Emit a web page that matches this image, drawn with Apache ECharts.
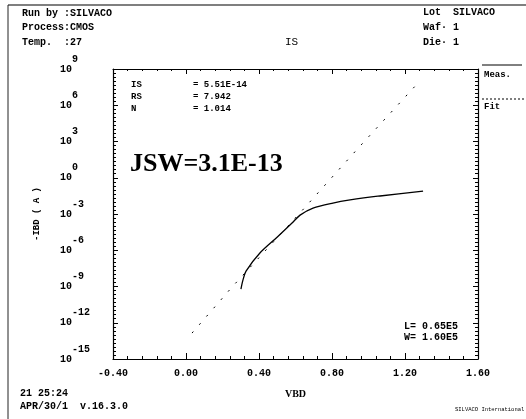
<!DOCTYPE html>
<html>
<head>
<meta charset="utf-8">
<script src="https://cdn.jsdelivr.net/npm/echarts@6/dist/echarts.min.js"></script>
<style>
html,body{margin:0;padding:0;background:#fff;}
#chart{width:526px;height:419px;}
</style>
</head>
<body>
<div id="chart"></div>
<script>
// Measured diode current (VBD in volts, -IBD in amps)
const measV = [0.301, 0.312, 0.329, 0.405, 0.499, 0.581, 0.625, 0.696, 0.805, 0.899, 1.063, 1.299];
const measI = [6.2e-10, 3.4e-9, 1.9e-8, 5.9e-7, 1.2e-5, 1.8e-4, 8.1e-4, 3.1e-3, 8.1e-3, 1.45e-2, 3.1e-2, 7.9e-2];
// Fitted ideal diode line
const fitV = [0.033, 0.252, 0.625, 0.937, 1.271];
const fitI = [1.4e-13, 8.9e-10, 1.25e-3, 2.2e2, 6.9e7];
// Axis ticks
const xTicks = { min: -0.4, max: 1.6, step: 0.4 };
const yExp = { min: -15, max: 9, step: 3 };
// Annotation texts
const headerLeft = ['Run by :SILVACO', 'Process:CMOS', 'Temp.  :27'];
const headerRight = ['Lot  SILVACO', 'Waf\u00b7 1', 'Die\u00b7 1'];
const paramNames = ['IS', 'RS', 'N'];
const paramValues = ['= 5.51E-14', '= 7.942', '= 1.014'];
const geomTexts = ['L= 0.65E5', 'W= 1.60E5'];
const footer = ['21 25:24', 'APR/30/1  v.16.3.0'];

const mono = 'Liberation Mono';
const chart = echarts.init(document.getElementById('chart'));

const toPts = (vs, is) => vs.map((v, i) => [v, Math.log10(is[i])]);

const txt = (x, y, s, extra) => Object.assign({
  type: 'text', left: x, top: y,
  style: Object.assign({ text: s, fill: '#000', font: 'bold 10px "' + mono + '"' }, extra || {})
});

const graphics = [];
headerLeft.forEach((s, i) => graphics.push(txt(22, 8 + i * 14.5, s)));
headerRight.forEach((s, i) => graphics.push(txt(423, 7 + i * 15, s)));
graphics.push(txt(285, 37, 'IS', { font: '11px "' + mono + '"' }));
paramNames.forEach((s, i) => graphics.push(txt(131, 80 + i * 12, s, { font: 'bold 9px "' + mono + '"' })));
paramValues.forEach((s, i) => graphics.push(txt(193, 80 + i * 12, s, { font: 'bold 9px "' + mono + '"' })));
graphics.push(txt(130, 151, 'JSW=3.1E-13', { font: 'bold 26px "Liberation Serif"' }));
geomTexts.forEach((s, i) => graphics.push(txt(404, 321 + i * 11, s, { font: 'bold 10px "' + mono + '"' })));
footer.forEach((s, i) => graphics.push(txt(20, 388 + i * 13, s)));
graphics.push(txt(455, 407, 'SILVACO International', { font: '5.5px "' + mono + '"' }));
// legend
graphics.push(txt(484, 70, 'Meas.', { font: 'bold 9px "' + mono + '"' }));
graphics.push(txt(484, 102, 'Fit', { font: 'bold 9px "' + mono + '"' }));
graphics.push({ type: 'line', shape: { x1: 482, y1: 65, x2: 522, y2: 65 }, style: { stroke: '#000', lineWidth: 1 } });
graphics.push({ type: 'line', shape: { x1: 482, y1: 99, x2: 524, y2: 99 }, style: { stroke: '#000', lineWidth: 1, lineDash: [2, 2] } });
// page borders
graphics.push({ type: 'line', shape: { x1: 8, y1: 5, x2: 526, y2: 5 }, style: { stroke: '#555', lineWidth: 1.5 } });
graphics.push({ type: 'line', shape: { x1: 8, y1: 5, x2: 8, y2: 419 }, style: { stroke: '#222', lineWidth: 1 } });

const axisFont = { color: '#000', fontFamily: mono, fontWeight: 'bold', fontSize: 10 };

chart.setOption({
  animation: false,
  backgroundColor: '#fff',
  grid: { left: 113, right: 48, top: 69, bottom: 60, show: false },
  xAxis: [{
    type: 'value', position: 'bottom',
    min: xTicks.min, max: xTicks.max, interval: xTicks.step,
    name: 'VBD', nameLocation: 'middle', nameGap: 30,
    nameTextStyle: { color: '#000', fontFamily: 'Liberation Serif', fontWeight: 'bold', fontSize: 10 },
    axisLine: { onZero: false, lineStyle: { color: '#000', width: 1.2 } },
    axisTick: { inside: true, length: 6, lineStyle: { color: '#000' } },
    minorTick: { show: true, splitNumber: 5, length: 3, lineStyle: { color: '#000' } },
    splitLine: { show: false },
    axisLabel: Object.assign({ margin: 9, formatter: v => v.toFixed(2) }, axisFont)
  }, {
    type: 'value', position: 'top',
    min: xTicks.min, max: xTicks.max, interval: xTicks.step,
    axisLine: { onZero: false, lineStyle: { color: '#000', width: 1 } },
    axisTick: { inside: true, length: 5, lineStyle: { color: '#000' } },
    minorTick: { show: true, splitNumber: 5, length: 2, lineStyle: { color: '#000' } },
    splitLine: { show: false },
    axisLabel: { show: false }
  }],
  yAxis: [{
    type: 'value', position: 'left',
    min: yExp.min, max: yExp.max, interval: yExp.step,
    name: '-IBD ( A )', nameLocation: 'middle', nameGap: 72, nameRotate: 90,
    nameTextStyle: { color: '#000', fontFamily: mono, fontWeight: 'bold', fontSize: 9 },
    axisLine: { onZero: false, lineStyle: { color: '#000', width: 1.2 } },
    axisTick: { inside: true, length: 5, lineStyle: { color: '#000' } },
    minorTick: { show: true, splitNumber: 9, length: 3, lineStyle: { color: '#000' } },
    splitLine: { show: false },
    axisLabel: {
      align: 'left', margin: 53,
      formatter: v => '{b|10}{e|' + v + '}',
      rich: {
        b: { fontFamily: mono, fontWeight: 'bold', fontSize: 10, color: '#000', lineHeight: 30, verticalAlign: 'middle' },
        e: { fontFamily: mono, fontWeight: 'bold', fontSize: 10, color: '#000', lineHeight: 10, verticalAlign: 'top' }
      }
    }
  }, {
    type: 'value', position: 'right',
    min: yExp.min, max: yExp.max, interval: yExp.step,
    axisLine: { onZero: false, lineStyle: { color: '#000', width: 1.2 } },
    axisTick: { inside: true, length: 5, lineStyle: { color: '#000' } },
    minorTick: { show: true, splitNumber: 9, length: 3, lineStyle: { color: '#000' } },
    splitLine: { show: false },
    axisLabel: { show: false }
  }],
  series: [{
    name: 'Meas.', type: 'line', xAxisIndex: 0, yAxisIndex: 0,
    data: toPts(measV, measI), showSymbol: false, smooth: 0.3,
    lineStyle: { color: '#000', width: 1.3 }
  }, {
    name: 'Fit', type: 'line', xAxisIndex: 0, yAxisIndex: 0,
    data: toPts(fitV, fitI), showSymbol: false,
    lineStyle: { color: '#000', width: 1, type: [2, 9] }
  }],
  graphic: graphics
});
</script>
</body>
</html>
